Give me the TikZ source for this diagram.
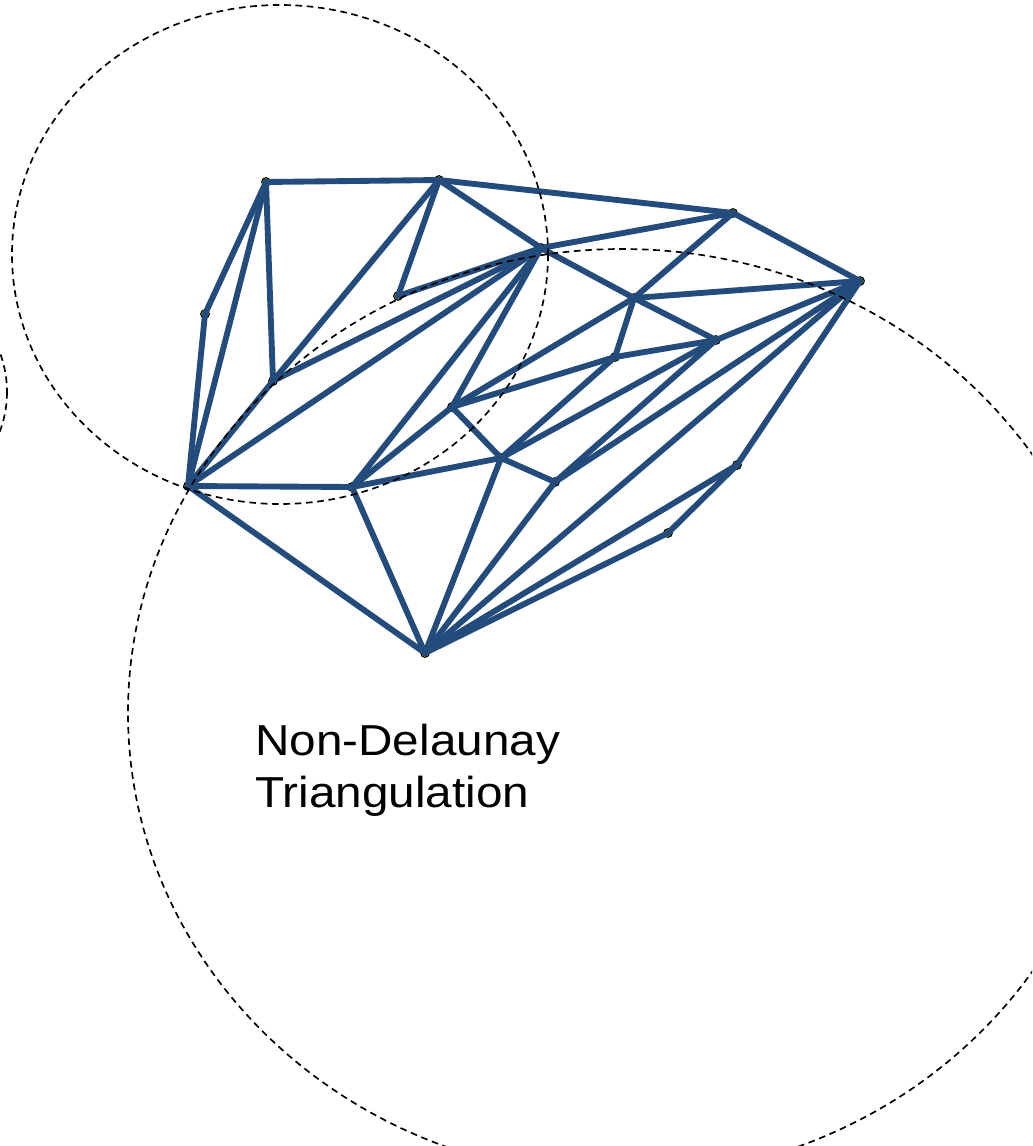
\documentclass[tikz,border=0pt]{standalone}
\usepackage{fontspec}
\setmainfont{Liberation Sans}
\definecolor{edgeblue}{RGB}{35,76,125}
\definecolor{dotfill}{RGB}{160,200,20}
\begin{document}
\begin{tikzpicture}[x=0.75pt,y=-0.75pt,
  edge/.style={draw=edgeblue,line width=4.4pt,line cap=round,line join=round},
  vtx/.style={circle,draw=black,fill=dotfill,line width=0.8pt,inner sep=0pt,minimum size=6.5pt},
  circ/.style={draw=black,line width=1.25pt,dash pattern=on 5pt off 3.5pt}]
\useasboundingbox (0,0) rectangle (1032,1146);
\clip (0,0) rectangle (1032,1146);
% vertices
\node[vtx] (A) at (266,182) {};
\node[vtx] (B) at (439,180) {};
\node[vtx] (C) at (733,213) {};
\node[vtx] (D) at (860,281) {};
\node[vtx] (E) at (541,248) {};
\node[vtx] (F) at (205,314) {};
\node[vtx] (G) at (398,296) {};
\node[vtx] (H) at (273,381) {};
\node[vtx] (I) at (188,486) {};
\node[vtx] (J) at (352,487) {};
\node[vtx] (K) at (634,298) {};
\node[vtx] (L) at (716,340) {};
\node[vtx] (M) at (615,357) {};
\node[vtx] (N) at (452,407) {};
\node[vtx] (O) at (501,458) {};
\node[vtx] (P) at (555,482) {};
\node[vtx] (Q) at (737,465) {};
\node[vtx] (R) at (668,533) {};
\node[vtx] (S) at (425,653) {};
% edges
\foreach \u/\v in {A/B,A/F,A/I,A/H,F/I,B/H,B/G,B/E,B/C,G/E,H/E,H/I,I/E,I/J,I/S,
  C/E,C/K,C/D,E/K,E/J,E/N,K/D,K/L,K/N,K/M,L/D,L/M,L/O,L/P,M/N,M/O,N/J,N/O,
  O/J,O/P,O/S,P/D,P/S,J/S,D/Q,D/S,Q/S,Q/R,R/S}
  \draw[edge] (\u.center) -- (\v.center);
% dashed circumcircles
\draw[circ] (280,254.5) ellipse [x radius=268, y radius=249.5];
\draw[circ] (622,713) ellipse [x radius=494, y radius=464];
\draw[circ] (-118,392) ellipse [x radius=125, y radius=118];
% label
\node[anchor=base west,align=left,inner sep=0pt,font=\fontsize{32.5}{39}\selectfont] (label) at (255,807) {\scalebox{1.1}[1]{Non-Delaunay}\\\scalebox{1.1}[1]{Triangulation}};
\end{tikzpicture}
\end{document}
